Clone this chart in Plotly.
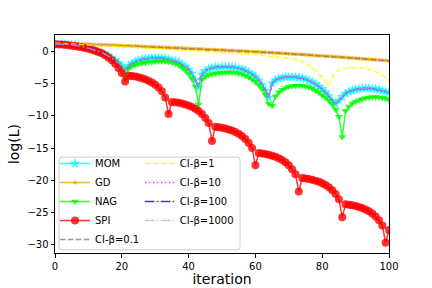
import plotly.graph_objects as go

iteration = list(range(0, 101))

mom = [1.25, 1.24, 1.22, 1.2, 1.16, 1.11, 1.04, 0.96, 0.86, 0.74, 0.6, 0.45, 0.29, 0.1, -0.1, -0.35, -0.62, -0.92, -1.28, -1.7, -2.2,
       -2.9, -2.2, -1.8, -1.52, -1.32, -1.17, -1.06, -0.99, -0.94, -0.92, -0.92, -0.95, -1.02, -1.12, -1.26, -1.44, -1.66, -1.94, -2.28, -2.72, -3.35, -4.4, -5.5,
       -3.5, -2.95, -2.66, -2.5, -2.4, -2.34, -2.3, -2.29, -2.3, -2.35, -2.42, -2.54, -2.7, -2.9, -3.15, -3.45, -3.85, -4.4, -5.1, -6.0, -7.1,
       -4.9, -4.4, -4.15, -4.0, -3.94, -3.91, -3.91, -3.94, -4.0, -4.1, -4.25, -4.45, -4.7, -5.0, -5.4, -5.8, -6.3, -6.9, -7.6, -8.1,
       -7.6, -7.0, -6.5, -6.2, -6.0, -5.85, -5.75, -5.7, -5.68, -5.69, -5.73, -5.8, -5.9, -6.04, -6.2, -6.38]

gd = [1.40, 1.38, 1.36, 1.34, 1.32, 1.30, 1.28, 1.26, 1.24, 1.22, 1.20, 1.18, 1.16, 1.14, 1.12, 1.10, 1.08, 1.06, 1.04, 1.02,
      1.00, 0.98, 0.96, 0.94, 0.92, 0.90, 0.88, 0.86, 0.83, 0.81, 0.79, 0.76, 0.74, 0.72, 0.69, 0.67, 0.64, 0.62, 0.60, 0.57,
      0.55, 0.52, 0.50, 0.47, 0.45, 0.42, 0.40, 0.37, 0.35, 0.32, 0.30, 0.27, 0.24, 0.22, 0.19, 0.17, 0.14, 0.11, 0.09, 0.06,
      0.03, 0.00, -0.03, -0.06, -0.09, -0.12, -0.15, -0.18, -0.21, -0.24, -0.27, -0.30, -0.34, -0.37, -0.40, -0.44, -0.47, -0.51, -0.54, -0.58,
      -0.61, -0.65, -0.68, -0.72, -0.76, -0.79, -0.83, -0.87, -0.91, -0.95, -0.98, -1.02, -1.06, -1.10, -1.14, -1.18, -1.22, -1.26, -1.30, -1.34, -1.38]

nag = [1.25, 1.24, 1.22, 1.19, 1.15, 1.1, 1.03, 0.95, 0.85, 0.73, 0.59, 0.43, 0.26, 0.06, -0.16, -0.42, -0.72, -1.06, -1.46, -1.95, -2.6, -4.0,
       -2.6, -2.2, -2.0, -1.86, -1.76, -1.68, -1.62, -1.56, -1.5, -1.46, -1.44, -1.46, -1.52, -1.62, -1.8, -2.05, -2.4, -2.85, -3.4, -4.2, -5.4, -8.2,
       -4.3, -3.85, -3.6, -3.45, -3.35, -3.28, -3.23, -3.2, -3.19, -3.2, -3.25, -3.35, -3.5, -3.7, -3.95, -4.25, -4.65, -5.15, -5.8, -6.7, -8.1, -8.4,
       -6.9, -6.3, -5.9, -5.62, -5.45, -5.33, -5.26, -5.24, -5.27, -5.35, -5.5, -5.72, -6.0, -6.35, -6.75, -7.15, -7.6, -8.15, -9.0, -10.1, -13.3,
       -9.2, -8.5, -8.05, -7.75, -7.5, -7.33, -7.2, -7.1, -7.05, -7.04, -7.07, -7.15, -7.28, -7.45]

spi = [1.2, 1.18, 1.15, 1.11, 1.06, 0.99, 0.92, 0.83, 0.73, 0.62, 0.49, 0.35, 0.19, 0.0, -0.22, -0.5, -0.85, -1.3, -1.85, -2.5, -3.3, -4.6,
       -3.7, -3.75, -3.84, -3.96, -4.1, -4.28, -4.5, -4.78, -5.12, -5.55, -6.15, -7.1, -9.7,
       -7.8, -7.85, -7.94, -8.06, -8.2, -8.38, -8.6, -8.88, -9.24, -9.7, -10.3, -11.1, -13.9,
       -11.7, -11.75, -11.84, -11.96, -12.1, -12.28, -12.5, -12.78, -13.14, -13.6, -14.2, -15.0, -17.7,
       -15.8, -15.85, -15.94, -16.06, -16.2, -16.38, -16.6, -16.88, -17.24, -17.7, -18.3, -19.1, -21.8,
       -19.7, -19.75, -19.84, -19.96, -20.1, -20.28, -20.5, -20.78, -21.14, -21.6, -22.2, -23.0, -25.8,
       -23.8, -23.85, -23.94, -24.06, -24.2, -24.38, -24.6, -24.88, -25.24, -25.7, -26.3, -27.1, -29.8, -27.8]

ci_b01 = [1.40, 1.38, 1.36, 1.34, 1.32, 1.30, 1.28, 1.26, 1.24, 1.22, 1.20, 1.18, 1.16, 1.14, 1.12, 1.10, 1.08, 1.06, 1.04, 1.02,
          1.00, 0.98, 0.96, 0.94, 0.92, 0.90, 0.88, 0.86, 0.83, 0.81, 0.79, 0.76, 0.74, 0.72, 0.69, 0.67, 0.64, 0.62, 0.60, 0.57,
          0.55, 0.52, 0.50, 0.47, 0.45, 0.42, 0.40, 0.37, 0.35, 0.32, 0.30, 0.27, 0.24, 0.22, 0.19, 0.17, 0.14, 0.11, 0.09, 0.06,
          0.03, 0.00, -0.03, -0.06, -0.09, -0.12, -0.15, -0.18, -0.21, -0.24, -0.27, -0.30, -0.34, -0.37, -0.40, -0.44, -0.47, -0.51, -0.54, -0.58,
          -0.61, -0.65, -0.68, -0.72, -0.76, -0.79, -0.83, -0.87, -0.91, -0.95, -0.98, -1.02, -1.06, -1.10, -1.14, -1.18, -1.22, -1.26, -1.30, -1.34, -1.38]

ci_b1 = [1.35, 1.33, 1.31, 1.29, 1.27, 1.25, 1.22, 1.2, 1.17, 1.15, 1.12, 1.1, 1.07, 1.04, 1.01, 0.98, 0.95, 0.92, 0.89, 0.86,
         0.82, 0.79, 0.75, 0.72, 0.68, 0.64, 0.6, 0.56, 0.52, 0.49, 0.46, 0.43, 0.4, 0.37, 0.34, 0.31, 0.28, 0.25, 0.23, 0.2,
         0.18, 0.15, 0.13, 0.11, 0.09, 0.07, 0.05, 0.03, 0.01, -0.01, -0.03, -0.06, -0.09, -0.12, -0.15, -0.19, -0.23, -0.27, -0.32, -0.37,
         -0.42, -0.47, -0.52, -0.57, -0.62, -0.67, -0.72, -0.77, -0.83, -0.89, -0.96, -1.04, -1.14, -1.28, -1.47, -1.72, -2.05, -2.45, -2.9, -3.4,
         -3.95, -4.6, -5.3, -3.95, -3.2, -2.85, -2.65, -2.55, -2.48, -2.45, -2.44, -2.46, -2.5, -2.58, -2.7, -2.86, -3.06, -3.32, -3.65, -4.05, -4.55]

ci_b10 = list(mom)
ci_b100 = list(mom)
ci_b1000 = list(mom)

labels = ["MOM", "GD", "NAG", "SPI", "CI-β=0.1", "CI-β=1", "CI-β=10", "CI-β=100", "CI-β=1000"]

def rgba(r, g, b, a=0.8):
    return f"rgba({r},{g},{b},{a})"

fig = go.Figure()

fig.add_trace(go.Scatter(x=iteration, y=mom, name=labels[0], mode="lines+markers",
                         line=dict(color=rgba(0, 255, 255), width=1.5),
                         marker=dict(symbol="star", size=8, color=rgba(0, 255, 255), line=dict(width=0)),
                         legend="legend"))
fig.add_trace(go.Scatter(x=iteration, y=gd, name=labels[1], mode="lines+markers",
                         line=dict(color=rgba(255, 165, 0), width=1.5),
                         marker=dict(symbol="circle", size=4, color=rgba(255, 165, 0), line=dict(width=0)),
                         legend="legend"))
fig.add_trace(go.Scatter(x=iteration, y=nag, name=labels[2], mode="lines+markers",
                         line=dict(color=rgba(0, 255, 0), width=1.5),
                         marker=dict(symbol="triangle-down", size=7, color=rgba(0, 255, 0), line=dict(width=0)),
                         legend="legend"))
fig.add_trace(go.Scatter(x=iteration, y=spi, name=labels[3], mode="lines+markers",
                         line=dict(color=rgba(255, 0, 0), width=1.5),
                         marker=dict(symbol="circle", size=8, color=rgba(255, 0, 0), line=dict(width=0)),
                         legend="legend"))
fig.add_trace(go.Scatter(x=iteration, y=ci_b01, name=labels[4], mode="lines",
                         line=dict(color=rgba(128, 128, 128), width=1.5, dash="5.5px,2.4px"),
                         legend="legend"))
fig.add_trace(go.Scatter(x=iteration, y=ci_b1, name=labels[5], mode="lines",
                         line=dict(color=rgba(255, 255, 0), width=1.5, dash="5.5px,2.4px"),
                         legend="legend2"))
fig.add_trace(go.Scatter(x=iteration, y=ci_b10, name=labels[6], mode="lines",
                         line=dict(color=rgba(255, 0, 255), width=1.5, dash="1.5px,2.5px"),
                         legend="legend2"))
fig.add_trace(go.Scatter(x=iteration, y=ci_b100, name=labels[7], mode="lines",
                         line=dict(color=rgba(0, 0, 255), width=1.5, dash="9.6px,2.4px,1.5px,2.4px"),
                         legend="legend2"))
fig.add_trace(go.Scatter(x=iteration, y=ci_b1000, name=labels[8], mode="lines",
                         line=dict(color=rgba(221, 160, 221), width=1.5, dash="9.6px,2.4px,1.5px,2.4px"),
                         legend="legend2"))

axis_common = dict(showgrid=False, zeroline=False, showline=True, linecolor="black", linewidth=1,
                   mirror=True, ticks="outside", ticklen=3.5, tickwidth=0.8, tickcolor="black",
                   tickfont=dict(size=10, color="black"), automargin=False)

# rounded legend frame (paper coordinates)
fx0, fx1, fy0, fy1 = 0.012, 0.554, 0.014, 0.44
rx, ry = 3 / 334, 3 / 218
frame_path = (f"M{fx0+rx},{fy0} L{fx1-rx},{fy0} Q{fx1},{fy0} {fx1},{fy0+ry} "
              f"L{fx1},{fy1-ry} Q{fx1},{fy1} {fx1-rx},{fy1} "
              f"L{fx0+rx},{fy1} Q{fx0},{fy1} {fx0},{fy1-ry} "
              f"L{fx0},{fy0+ry} Q{fx0},{fy0} {fx0+rx},{fy0} Z")

fig.update_layout(
    width=432, height=288,
    margin=dict(l=55, r=43, t=35, b=35, autoexpand=False),
    plot_bgcolor="white", paper_bgcolor="white",
    font=dict(family="DejaVu Sans", size=10, color="black"),
    xaxis=dict(range=[0, 100], tickvals=[0, 20, 40, 60, 80, 100],
               title=dict(text="iteration", font=dict(size=14), standoff=1), **axis_common),
    yaxis=dict(range=[-31.4, 2.65], tickvals=[0, -5, -10, -15, -20, -25, -30],
               title=dict(text="log(L)", font=dict(size=14), standoff=4), **axis_common),
    legend=dict(x=0.0, y=0.477, xanchor="left", yanchor="top", bgcolor="rgba(0,0,0,0)",
                borderwidth=0, font=dict(size=10), tracegroupgap=0),
    legend2=dict(x=0.254, y=0.477, xanchor="left", yanchor="top", bgcolor="rgba(0,0,0,0)",
                 borderwidth=0, font=dict(size=10), tracegroupgap=0),
    shapes=[dict(type="path", xref="paper", yref="paper", path=frame_path,
                 line=dict(color="#cccccc", width=1), fillcolor="rgba(255,255,255,0.8)", layer="below")],
)

fig.write_html("out.html", config={"displayModeBar": False},
               post_script="document.body.style.margin='0px';document.body.style.padding='0px';")
